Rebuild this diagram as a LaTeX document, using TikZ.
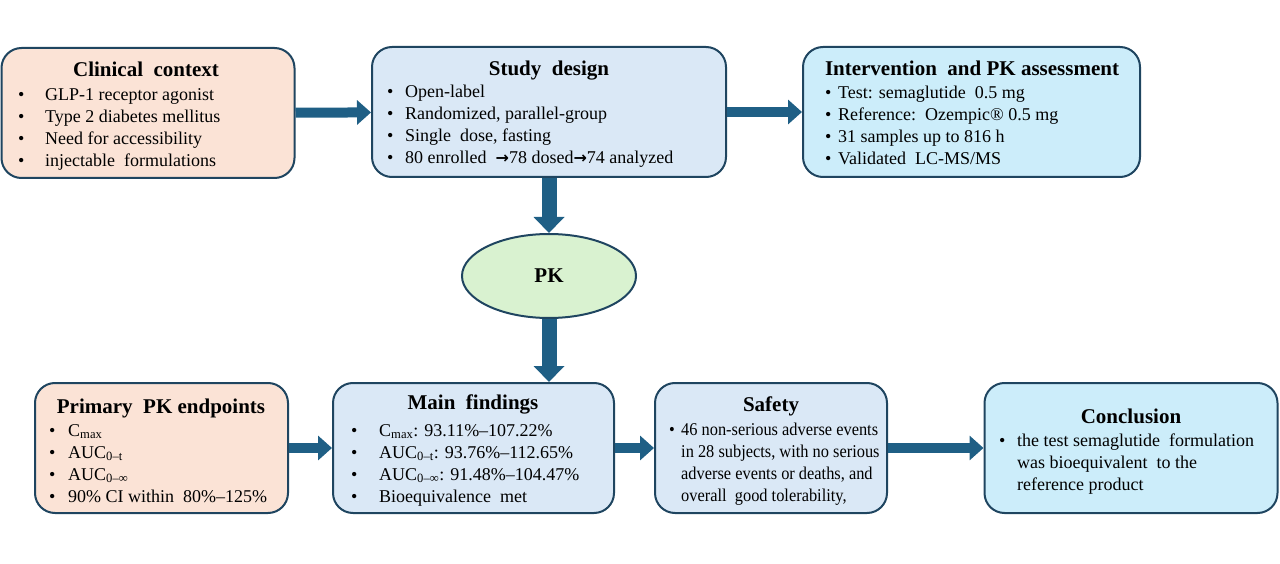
\documentclass[tikz,border=0pt]{standalone}
\usepackage{fontspec}
\setmainfont{Liberation Serif}
\newfontfamily\arrowfont{DejaVu Sans}
\newfontfamily\narrowfont[FakeStretch=0.91]{Liberation Serif}
\usetikzlibrary{arrows.meta,shapes.geometric}
\definecolor{edgeblue}{HTML}{1F4560}
\definecolor{arrowblue}{HTML}{1F5F85}
\definecolor{peach}{HTML}{FBE3D6}
\definecolor{paleblue}{HTML}{DAE8F6}
\definecolor{skyblue}{HTML}{CCEDFA}
\definecolor{palegreen}{HTML}{D9F2D0}
\newcommand{\itm}[2]{\makebox[#1][l]{\textbullet}#2}
\newcommand{\nxt}{{\arrowfont\bfseries\fontsize{16}{16}\selectfont →}}

\begin{document}
\begin{tikzpicture}[x=1pt,y=-1pt,
  box/.style={draw=edgeblue, line width=2pt, rounded corners=20pt, minimum height=130pt, inner sep=0pt},
  ttl/.style={font=\fontsize{21}{24}\selectfont\bfseries, inner sep=0pt, anchor=base},
  lst/.style={font=\fontsize{18}{22}\selectfont, align=left, anchor=base west, inner sep=0pt},
  flow/.style={draw=arrowblue, line width=10pt, -{Triangle[length=14pt,width=24pt]}},
  drop/.style={draw=arrowblue, line width=15pt, -{Triangle[length=16pt,width=30pt]}}]
\useasboundingbox (0,0) rectangle (1280,564);

% top row (list nodes sit on the baseline of their last line)
\node[box, fill=peach, minimum width=293pt] (ctx) at (148,113) {};
\node[ttl] (ctxT) at (146,77) {Clinical\ \ context};
\node[lst] (ctxL) at (18,167) {\itm{27pt}{GLP-1 receptor agonist}\\
  \itm{27pt}{Type 2 diabetes mellitus}\\
  \itm{27pt}{Need for accessibility}\\
  \itm{27pt}{injectable\ \ formulations}};

\node[box, fill=paleblue, minimum width=354pt] (des) at (549,112) {};
\node[ttl] (desT) at (549,76) {Study\ \ design};
\node[lst] (desL) at (387,164) {\itm{18pt}{Open-label}\\
  \itm{18pt}{Randomized, parallel-group}\\
  \itm{18pt}{Single\ \ dose, fasting}\\
  \itm{18pt}{80 enrolled \ \nxt78 dosed\nxt74 analyzed}};

\node[box, fill=skyblue, minimum width=337pt] (intv) at (971.5,112) {};
\node[ttl] (intvT) at (972,76) {Intervention\ \ and PK assessment};
\node[lst] (intvL) at (825,165) {\itm{13pt}{Test: semaglutide\ \ 0.5 mg}\\
  \itm{13pt}{Reference:\ \ Ozempic® 0.5 mg}\\
  \itm{13pt}{31 samples up to 816 h}\\
  \itm{13pt}{Validated\ \ LC-MS/MS}};

% middle
\node[ellipse, draw=edgeblue, line width=2pt, fill=palegreen, minimum width=174pt, minimum height=84pt,
  inner sep=0pt, font=\fontsize{21}{24}\selectfont\bfseries] (pk) at (549,276) {PK};

% bottom row
\node[box, fill=peach, minimum width=253pt] (ept) at (161.5,448) {};
\node[ttl] (eptT) at (161,413) {Primary\ \ PK endpoints};
\node[lst] (eptL) at (49,502) {\itm{19pt}{C\textsubscript{max}}\\
  \itm{19pt}{AUC\textsubscript{0–t}}\\
  \itm{19pt}{AUC\textsubscript{0–∞}}\\
  \itm{19pt}{90\% CI within\ \ 80\%–125\%}};

\node[box, fill=paleblue, minimum width=281pt] (fnd) at (473.5,448) {};
\node[ttl] (fndT) at (473,409) {Main\ \ findings};
\node[lst] (fndL) at (351,502) {\itm{28pt}{C\textsubscript{max}: 93.11\%–107.22\%}\\
  \itm{28pt}{AUC\textsubscript{0–t}: 93.76\%–112.65\%}\\
  \itm{28pt}{AUC\textsubscript{0–∞}: 91.48\%–104.47\%}\\
  \itm{28pt}{Bioequivalence\ \ met}};

\node[box, fill=paleblue, minimum width=232pt] (saf) at (771,448) {};
\node[ttl] (safT) at (771,411) {Safety};
\node[lst, font=\narrowfont\fontsize{18}{22}\selectfont] (safL) at (669,501) {\itm{12pt}{46 non-serious adverse events}\\
  \hspace*{12pt}in 28 subjects, with no serious\\
  \hspace*{12pt}adverse events or deaths, and\\
  \hspace*{12pt}overall\ \ good tolerability,};

\node[box, fill=skyblue, minimum width=293pt] (con) at (1131,448) {};
\node[ttl] (conT) at (1131,423) {Conclusion};
\node[lst] (conL) at (999,490) {\itm{18pt}{the test semaglutide\ \ formulation}\\
  \hspace*{18pt}was bioequivalent\ \ to the\\
  \hspace*{18pt}reference product};

% connectors
\draw[flow] (ctx) -- (des);
\draw[flow] (des) -- (intv);
\draw[drop] (des) -- (pk);
\draw[drop] (pk) -- (pk.south |- fnd.north);
\draw[flow] (ept) -- (fnd);
\draw[flow] (fnd) -- (saf);
\draw[flow] (saf) -- (con);
\end{tikzpicture}
\end{document}
